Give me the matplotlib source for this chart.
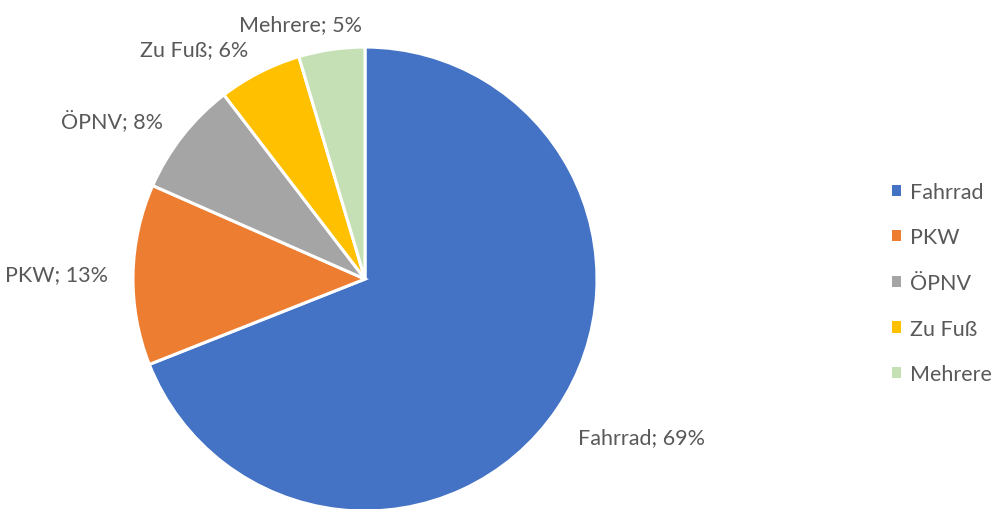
import numpy as np
import matplotlib.pyplot as plt
from matplotlib.patches import Patch

categories = ["Fahrrad", "PKW", "ÖPNV", "Zu Fuß", "Mehrere"]
shares = [69.0, 12.6, 8.0, 5.8, 4.6]
shown_pct = [69, 13, 8, 6, 5]
colors = ["#4472C4", "#ED7D31", "#A5A5A5", "#FFC000", "#C5E0B4"]
text_color = "#595959"

# small pixel nudges so the labels sit where Excel puts them
nudge_px = {"Fahrrad": (0, -13), "Mehrere": (34, 0)}

plt.rcParams["font.family"] = ["Lato", "DejaVu Sans"]

fig = plt.figure(figsize=(10, 5.1), dpi=100)
ax = fig.add_axes([0.133, -0.004, 0.464, 0.9098])

wedges, _ = ax.pie(shares, colors=colors, startangle=90, counterclock=False,
                   radius=1, wedgeprops=dict(edgecolor="white", linewidth=2.2))
ax.set_xlim(-1, 1)
ax.set_ylim(-1, 1)
ax.set_aspect("equal")
ax.axis("off")

for w, name, pct in zip(wedges, categories, shown_pct):
    ang = np.deg2rad((w.theta1 + w.theta2) / 2)
    x, y = 1.11 * np.cos(ang), 1.11 * np.sin(ang)
    ha = "left" if x > 0 else "right"
    dx, dy = nudge_px.get(name, (0, 0))
    ax.annotate(f"{name}; {pct}%", (x, y), xytext=(dx * 0.72, dy * 0.72),
                textcoords="offset points", ha=ha, va="center", fontsize=15.5,
                color=text_color, annotation_clip=False)

handles = [Patch(facecolor=c, edgecolor="none") for c in colors]
leg = fig.legend(handles, categories, loc="center left",
                 bbox_to_anchor=(0.873, 0.443), frameon=False, fontsize=15.5,
                 handlelength=0.42, handleheight=0.42, handletextpad=0.42,
                 labelspacing=1.19, labelcolor=text_color)

fig.savefig("out.png", dpi=100)
